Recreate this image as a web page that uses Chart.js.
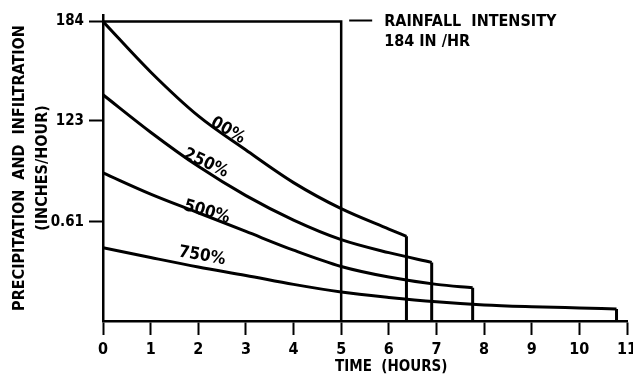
<!DOCTYPE html>
<html>
<head>
<meta charset="utf-8">
<script src="https://cdn.jsdelivr.net/npm/chart.js@4"></script>
<style>
  body { margin: 0; background: #fff; }
  canvas { display: block; }
</style>
</head>
<body>
<canvas id="grafico" width="633" height="374"></canvas>
<script>
// curvas de infiltracao (tempo em horas, taxa em in/hr)
const curveNames = ["00%", "250%", "500%", "750%"];
const t00 = [0, 1, 2, 3, 4, 5, 6, 6.37];
const v00 = [1.84, 1.53, 1.26, 1.05, 0.85, 0.69, 0.565, 0.52];
const t25 = [0, 1, 2, 3, 4, 5, 6, 6.9];
const v25 = [1.39, 1.16, 0.95, 0.77, 0.62, 0.5, 0.42, 0.36];
const t50 = [0, 1, 2, 3, 4, 5, 6, 7, 7.76];
const v50 = [0.91, 0.78, 0.665, 0.55, 0.435, 0.335, 0.27, 0.225, 0.205];
const t75 = [0, 1, 2, 3, 4, 5, 6, 7, 8, 9, 10, 10.78];
const v75 = [0.45, 0.39, 0.332, 0.28, 0.225, 0.178, 0.145, 0.118, 0.099, 0.088, 0.08, 0.074];

// chuva: 1.84 in/hr durante 5 horas
const rainTimes = [0, 5, 5];
const rainValues = [1.84, 1.84, 0];
const rainText = ["RAINFALL  INTENSITY", "184 IN /HR"];

const yTickValues = [0.61, 1.23, 1.84];
const yTickLabels = ["0.61", "123", "184"];
const yTitle = ["PRECIPITATION  AND  INFILTRATION", "(INCHES/HOUR)"];
const xTitle = "TIME  (HOURS)";

const curves = [[t00, v00], [t25, v25], [t50, v50], [t75, v75]];

function pts(xs, ys) {
  return xs.map((x, i) => ({ x: x, y: ys[i] }));
}

// quedas verticais no fim de cada curva
let drops = [];
for (const [ts, vs] of curves) {
  const tEnd = ts[ts.length - 1];
  drops.push({ x: tEnd, y: vs[vs.length - 1] });
  drops.push({ x: tEnd, y: 0 });
  drops.push({ x: tEnd, y: null });
}

const FONT = "'DejaVu Sans Condensed', 'DejaVu Sans', sans-serif";

const labelPlaces = [
  { x: 2.62, y: 1.17, rot: 30 },
  { x: 2.16, y: 0.97, rot: 25 },
  { x: 2.18, y: 0.67, rot: 16 },
  { x: 2.08, y: 0.4, rot: 10 },
];

const textos = {
  id: "textos",
  afterDatasetsDraw(chart) {
    const ctx = chart.ctx;
    const xs = chart.scales.x;
    const ys = chart.scales.y;
    ctx.save();
    ctx.fillStyle = "#000";
    ctx.font = "bold 17px " + FONT;
    ctx.textAlign = "center";
    ctx.textBaseline = "middle";
    curveNames.forEach((name, i) => {
      const p = labelPlaces[i];
      ctx.save();
      ctx.translate(xs.getPixelForValue(p.x), ys.getPixelForValue(p.y));
      ctx.rotate((p.rot * Math.PI) / 180);
      ctx.fillText(name, 0, 0);
      ctx.restore();
    });

    // legenda da chuva
    const lx = xs.getPixelForValue(5) + 8;
    const ly = ys.getPixelForValue(1.84) - 1;
    ctx.strokeStyle = "#000";
    ctx.lineWidth = 2;
    ctx.beginPath();
    ctx.moveTo(lx, ly);
    ctx.lineTo(lx + 23, ly);
    ctx.stroke();
    ctx.textAlign = "left";
    ctx.font = "bold 16px " + FONT;
    ctx.fillText(rainText[0], lx + 35, ly + 1);
    ctx.fillText(rainText[1], lx + 35, ly + 21);

    // titulo do eixo x
    ctx.textAlign = "center";
    ctx.font = "bold 15px " + FONT;
    ctx.fillText(xTitle, xs.getPixelForValue(6.05), 367);
    ctx.restore();
  },
};

let grafico = new Chart(document.getElementById("grafico"), {
  type: "line",
  data: {
    datasets: [
      ...curves.map(([ts, vs], i) => ({
        label: curveNames[i],
        data: pts(ts, vs),
        borderColor: "#000",
        borderWidth: 3,
        cubicInterpolationMode: "monotone",
        pointRadius: 0,
      })),
      {
        label: "drops",
        data: drops,
        borderColor: "#000",
        borderWidth: 3,
        tension: 0,
        pointRadius: 0,
        spanGaps: false,
      },
      {
        label: "rain",
        data: pts(rainTimes, rainValues),
        borderColor: "#000",
        borderWidth: 2.5,
        tension: 0,
        pointRadius: 0,
      },
    ],
  },
  options: {
    responsive: false,
    animation: false,
    layout: { padding: { left: 0, right: 0, top: 15, bottom: 0 } },
    plugins: {
      legend: { display: false },
      tooltip: { enabled: false },
    },
    scales: {
      x: {
        type: "linear",
        min: 0,
        max: 11,
        afterFit: (s) => {
          s.height = 53;
          s.paddingLeft = 0;
          s.paddingRight = 6;
        },
        grid: {
          drawOnChartArea: false,
          tickLength: 14,
          tickColor: "#000",
          tickWidth: 2,
        },
        border: { color: "#000", width: 2.5 },
        ticks: {
          stepSize: 1,
          color: "#000",
          padding: 5,
          maxRotation: 0,
          font: { family: FONT, size: 16, weight: "bold" },
        },
      },
      y: {
        type: "linear",
        min: 0,
        max: 1.88,
        afterFit: (s) => { s.width = 103; },
        afterBuildTicks: (s) => {
          s.ticks = yTickValues.map((v) => ({ value: v }));
        },
        grid: {
          drawOnChartArea: false,
          tickLength: 14,
          tickColor: "#000",
          tickWidth: 2,
        },
        border: { color: "#000", width: 2.5 },
        ticks: {
          color: "#000",
          padding: 5,
          font: { family: FONT, size: 15, weight: "bold" },
          callback: (v, i) => yTickLabels[i],
        },
        title: {
          display: true,
          text: yTitle,
          color: "#000",
          padding: { top: 9, bottom: 4 },
          font: { family: FONT, size: 16, weight: "bold", lineHeight: 1.4 },
        },
      },
    },
  },
  plugins: [textos],
});
</script>
</body>
</html>
